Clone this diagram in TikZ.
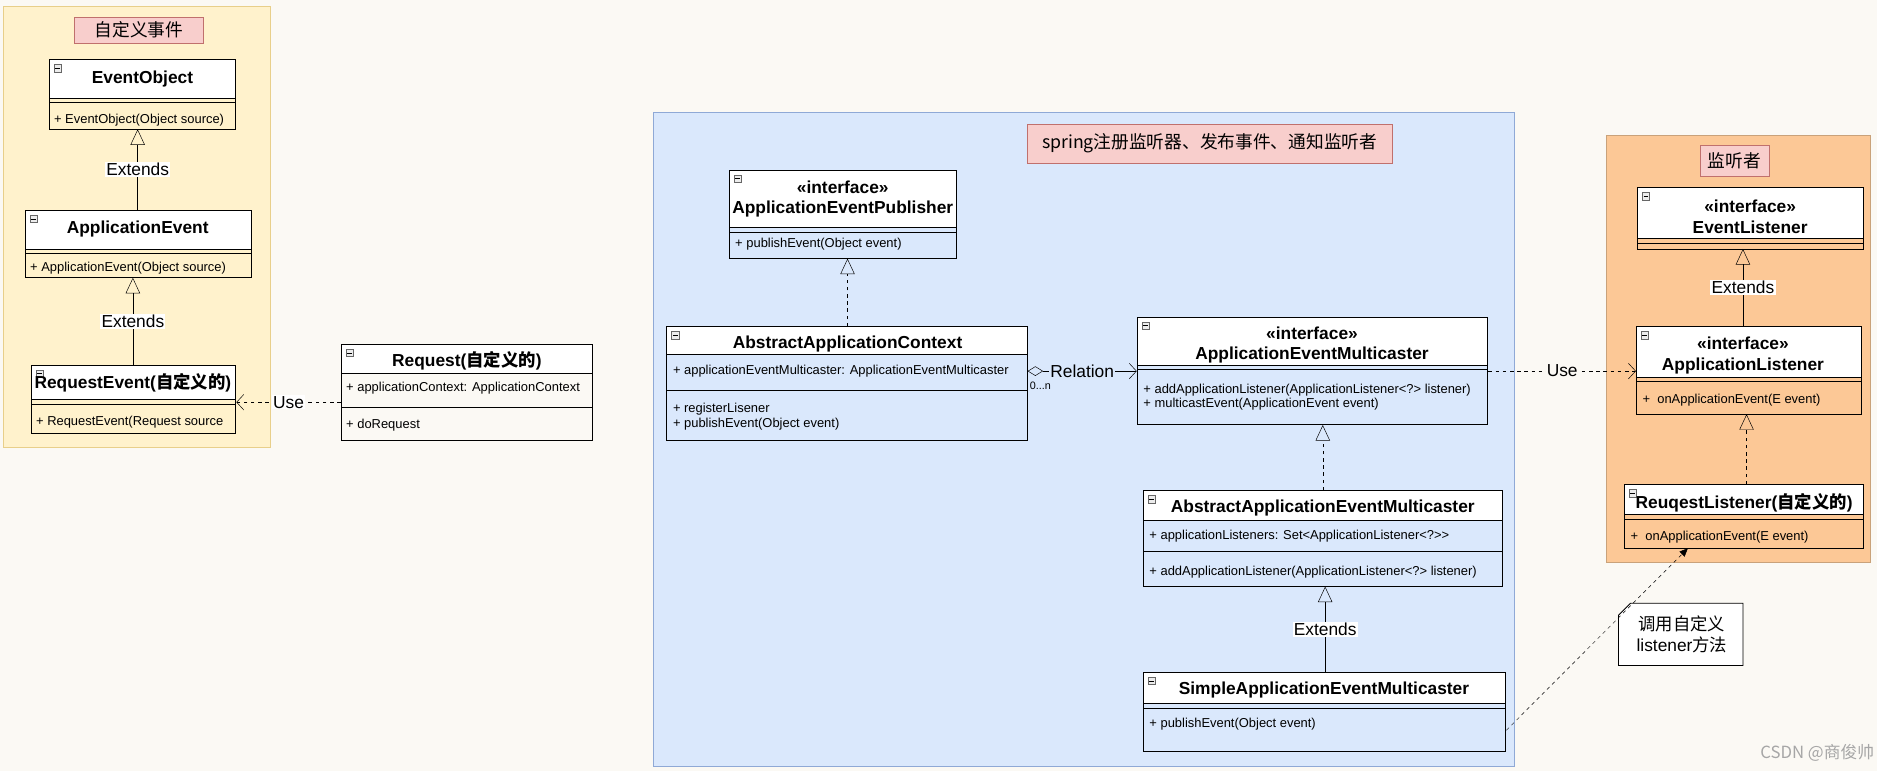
\documentclass[tikz,border=0pt]{standalone}
\usepackage{fontspec}
\setmainfont{Liberation Sans}
\newfontfamily\cjk{Noto Sans CJK SC}
\usetikzlibrary{arrows.meta,fit}
\definecolor{bgc}{HTML}{FBF9F4}
\definecolor{yel}{HTML}{FFF2CC}
\definecolor{yelb}{HTML}{E8CF8A}
\definecolor{blu}{HTML}{DAE8FC}
\definecolor{blub}{HTML}{8FA9D6}
\definecolor{ora}{HTML}{FCC896}
\definecolor{orab}{HTML}{C9A27A}
\definecolor{pnk}{HTML}{F8CECC}
\definecolor{pnkb}{HTML}{C0706D}
\tikzset{
  lbl/.style={fill=pnk,draw=pnkb,inner sep=0,font=\cjk\fontsize{14.8}{16}\selectfont},
  ttl/.style={font=\bfseries\fontsize{14.5}{17}\selectfont,align=center,inner sep=0},
  mth/.style={font=\fontsize{10.8}{12}\selectfont,anchor=west,inner sep=0,align=left},
  elab/.style={fill=white,inner sep=1pt,font=\fontsize{14.5}{16}\selectfont},
  ext/.style={-{Triangle[open,width=12pt,length=13pt]}},
  real/.style={dashed,-{Triangle[open,width=12pt,length=13pt]}},
  use/.style={dashed,-{Straight Barb[length=6pt,width=13pt]}},
}
\newcommand\cls[6]{%
  \fill[white] (#2,-#3) rectangle (#4,-#6);
  \node[fit={(#2,-#3)(#4,-#5)},inner sep=0,draw,line width=0.8pt] (#1) {};
  \draw[line width=0.8pt] (#2,-#6) -- (#4,-#6);
  \draw[fill=gray!15,draw=gray!80!black,line width=0.4pt] (#2+4,-#3-4) rectangle (#2+10,-#3-10);
  \draw[line width=0.5pt] (#2+5,-#3-7) -- (#2+9,-#3-7);
}
\newcommand\dbl[3]{\draw[line width=0.8pt] (#1,-#3) -- (#2,-#3);}
\begin{document}
\begin{tikzpicture}[x=1pt,y=1pt]
\useasboundingbox (0,0) rectangle (1568,-644);
\fill[bgc] (0,0) rectangle (1568,-644);
% panels
\draw[fill=yel,draw=yelb] (3,-5) rectangle (226,-374);
\draw[fill=blu,draw=blub] (546,-94) rectangle (1265,-640);
\draw[fill=ora,draw=orab] (1342,-113) rectangle (1562,-470);
\node[lbl,minimum width=108pt,minimum height=22pt] (l1) at (116,-25) {自定义事件};
\node[lbl,minimum width=305pt,minimum height=32pt] (l2) at (1010.5,-120) {spring注册监听器、发布事件、通知监听者};
\node[lbl,minimum width=58pt,minimum height=26pt] (l3) at (1449,-134) {监听者};
% left classes
\cls{eo}{41}{50}{197}{108}{82}\dbl{41}{197}{86}
\node[ttl] at (119,-66) {EventObject};
\node[mth] at (45,-100) {+ EventObject(Object source)};
\cls{aev}{21}{176}{210}{232}{208}\dbl{21}{210}{212}
\node[ttl] at (115,-191) {ApplicationEvent};
\node[mth] at (25,-224) {+ ApplicationEvent(Object source)};
\cls{rev}{26}{305}{197}{362}{334}\dbl{26}{197}{338}
\node[ttl] at (111,-320) {RequestEvent({\cjk 自定义的})};
\node[mth] at (30,-353) {+ RequestEvent(Request source};
\cls{req}{285}{288}{495}{368}{312}
\draw[line width=0.8pt] (285,-340) -- (495,-340);
\node[ttl] at (390,-301) {Request({\cjk 自定义的})};
\node[mth] at (289,-324) {+ applicationContext: ApplicationContext};
\node[mth] at (289,-355) {+ doRequest};
\draw[ext] (aev.north -| 115,0) -- node[elab]{Extends} (115,-108);
\draw[ext] (rev.north -| 111,0) -- node[elab]{Extends} (111,-232);
\draw[use] (req.west |- 0,-336) -- node[elab]{Use} (rev.east |- 0,-336);
% blue classes
\cls{aep}{609}{142}{799}{216}{190}\dbl{609}{799}{194}
\node[ttl] at (704,-166) {«interface»\\ApplicationEventPublisher};
\node[mth] at (614,-204) {+ publishEvent(Object event)};
\cls{aac}{557}{273}{858}{368}{296}
\draw[line width=0.8pt] (557,-326) -- (858,-326);
\node[ttl] at (708,-287) {AbstractApplicationContext};
\node[mth] at (562,-310) {+ applicationEventMulticaster: ApplicationEventMulticaster};
\node[mth] at (562,-348) {+ registerLisener\\+ publishEvent(Object event)};
\draw[real] (aac.north -| 708,0) -- (708,-216);
\cls{aem}{950}{265}{1243}{355}{305}\dbl{950}{1243}{309}
\node[ttl] at (1096,-288) {«interface»\\ApplicationEventMulticaster};
\node[mth] at (955,-332) {+ addApplicationListener(ApplicationListener<?> listener)\\+ multicastEvent(ApplicationEvent event)};
\draw[{Diamond[open,length=13pt,width=8pt]}-{Straight Barb[length=6pt,width=13pt]}]
  (aac.east |- 0,-310) -- node[elab,fill=blu]{Relation} (aem.west |- 0,-310);
\node[font=\fontsize{9}{10}\selectfont,inner sep=0] at (869,-322) {0...n};
\cls{aaem}{955}{410}{1255}{490}{435}
\draw[line width=0.8pt] (955,-461) -- (1255,-461);
\node[ttl] at (1105,-424) {AbstractApplicationEventMulticaster};
\node[mth] at (960,-448) {+ applicationListeners: Set<ApplicationListener<?>{}>};
\node[mth] at (960,-478) {+ addApplicationListener(ApplicationListener<?> listener)};
\draw[real] (aaem.north -| 1105,0) -- (1105,-355);
\cls{saem}{955}{562}{1258}{628}{588}\dbl{955}{1258}{592}
\node[ttl] at (1106,-576) {SimpleApplicationEventMulticaster};
\node[mth] at (960,-605) {+ publishEvent(Object event)};
\draw[ext] (saem.north -| 1107,0) -- node[elab]{Extends} (1107,-490);
% orange classes
\cls{el}{1368}{157}{1557}{208}{199}\dbl{1368}{1557}{203}
\node[ttl] at (1462,-181) {«interface»\\EventListener};
\cls{al}{1367}{273}{1555}{346}{315}\dbl{1367}{1555}{319}
\node[ttl] at (1456,-297) {«interface»\\ApplicationListener};
\node[mth] at (1372,-334) {+\ \ onApplicationEvent(E event)};
\draw[ext] (al.north -| 1456,0) -- node[elab]{Extends} (1456,-208);
\cls{rl}{1357}{405}{1557}{458}{430}\dbl{1357}{1557}{434}
\node[ttl] at (1457,-420) {ReuqestListener({\cjk 自定义的})};
\node[mth] at (1362,-449) {+\ \ onApplicationEvent(E event)};
\draw[real] (rl.north -| 1459,0) -- (1459,-346);
\draw[use] (aem.east |- 0,-310) -- node[elab,fill=bgc]{Use} (al.west |- 0,-310);
% note
\draw[fill=white,line width=0.6pt] (1362,-504) -- (1456,-504) -- (1456,-556) -- (1352,-556) -- (1352,-514) -- cycle;
\node[font=\fontsize{14.5}{17}\selectfont,align=center,inner sep=0] (note) at (1405,-530) {{\cjk 调用自定义}\\listener{\cjk 方法}};
\draw[dashed,-{Triangle[length=7pt,width=6pt]}] (saem.east |- 0,-610) -- (1410,-458);
\node[font=\cjk\fontsize{14}{16}\selectfont,text=gray!70,inner sep=0] at (1518,-629) {CSDN @商俊帅};
\end{tikzpicture}
\end{document}
